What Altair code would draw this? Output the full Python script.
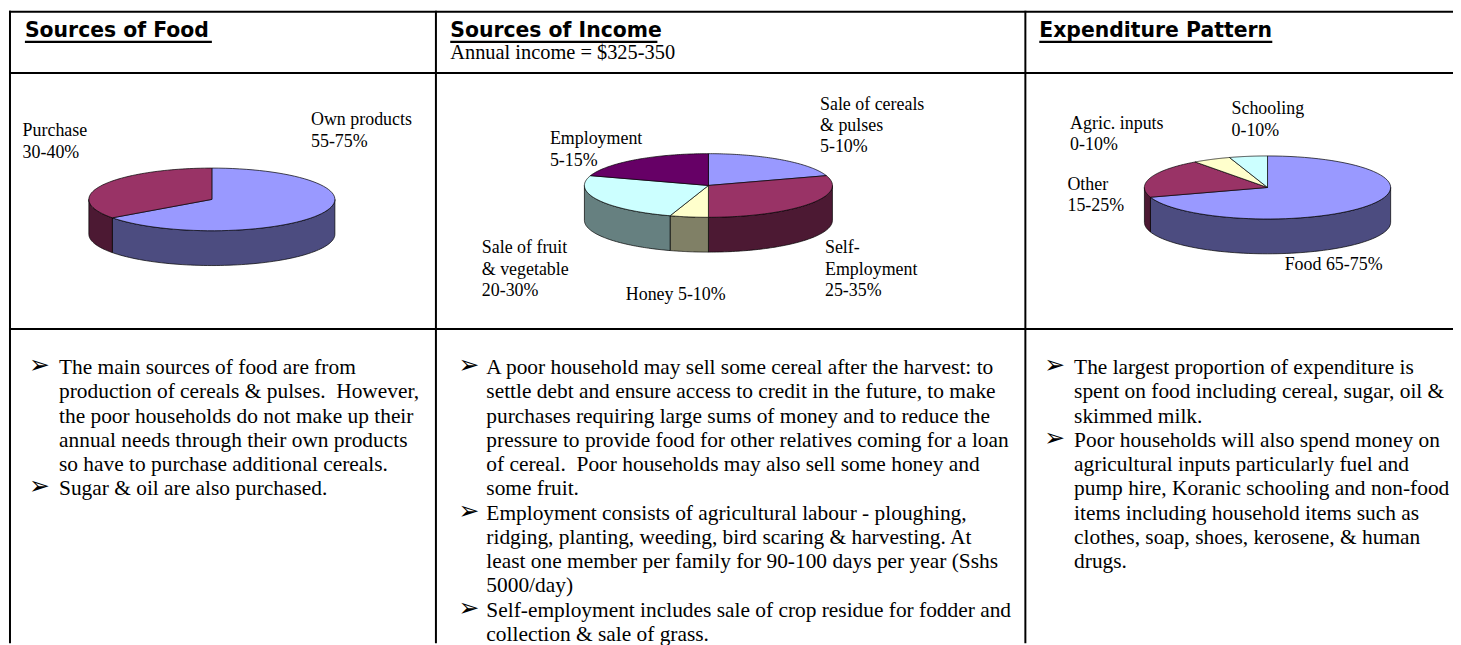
import altair as alt
import pandas as pd

# ---------------- data ----------------
food_labels = ["Own products", "Purchase"]
food_values = [65, 35]

income_labels = ["Sale of cereals & pulses", "Self-Employment", "Honey",
                 "Sale of fruit & vegetable", "Employment"]
income_values = [20, 30, 5, 25, 20]

exp_labels = ["Food", "Other", "Agric. inputs", "Schooling"]
exp_values = [70, 20, 5, 5]

headers = ["Sources of Food", "Sources of Income", "Expenditure Pattern"]
subheader = "Annual income = $325-350"

food_label_text = [["Purchase", "30-40%"], ["Own products", "55-75%"]]
income_label_text = [["Sale of cereals", "& pulses", "\u00a05-10%"], ["Employment", "5-15%"],
                     ["Sale of fruit", "& vegetable", "20-30%"], ["Honey 5-10%"],
                     ["Self-", "Employment", "25-35%"]]
exp_label_text = [["Schooling", "0-10%"], ["Agric. inputs", "0-10%"],
                  ["Other", "15-25%"], ["Food 65-75%"]]

food_notes = [
    ["The main sources of food are from",
     "production of cereals & pulses.  However,",
     "the poor households do not make up their",
     "annual needs through their own products",
     "so have to purchase additional cereals."],
    ["Sugar & oil are also purchased."],
]
income_notes = [
    ["A poor household may sell some cereal after the harvest: to",
     "settle debt and ensure access to credit in the future, to make",
     "purchases requiring large sums of money and to reduce the",
     "pressure to provide food for other relatives coming for a loan",
     "of cereal.  Poor households may also sell some honey and",
     "some fruit."],
    ["Employment consists of agricultural labour - ploughing,",
     "ridging, planting, weeding, bird scaring & harvesting. At",
     "least one member per family for 90-100 days per year (Sshs",
     "5000/day)"],
    ["Self-employment includes sale of crop residue for fodder and",
     "collection & sale of grass."],
]
exp_notes = [
    ["The largest proportion of expenditure is",
     "spent on food including cereal, sugar, oil &",
     "skimmed milk."],
    ["Poor households will also spend money on",
     "agricultural inputs particularly fuel and",
     "pump hire, Koranic schooling and non-food",
     "items including household items such as",
     "clothes, soap, shoes, kerosene, & human",
     "drugs."],
]

# ---------------- styles ----------------
PERI, MAROON, CREAM, CYAN, PURPLE = "#9999FF", "#993366", "#FFFFCC", "#CCFFFF", "#660066"
SIDE = {PERI: "#4C4C80", MAROON: "#4C1933", CREAM: "#808066", CYAN: "#668080", PURPLE: "#330033"}
food_colors = [PERI, MAROON]
income_colors = [PERI, MAROON, CREAM, CYAN, PURPLE]
exp_colors = [PERI, MAROON, CREAM, CYAN]

SERIF = "Liberation Serif"
HEADFONT = "DejaVu Sans"

# ---------------- layout (page pixels) ----------------
W, H = 1453, 637
XS = alt.Scale(domain=[8, 8 + W], nice=False, zero=False)
YS = alt.Scale(domain=[8, 8 + H], nice=False, zero=False, reverse=True)

pies = {
    "food": dict(cx=213, cy=198.7, rx=123.7, ry=31.5, depth=35),
    "income": dict(cx=712.3, cy=184.7, rx=124.7, ry=32, depth=35),
    "exp": dict(cx=1274.5, cy=186.7, rx=123.8, ry=31.7, depth=35),
}
label_anchor = {
    "food": [(22.7, 135), (312.7, 124.3)],
    "income": [(824.5, 108.3), (552.9, 143.3), (484.4, 252.7), (629.2, 300), (829.5, 252.7)],
    "exp": [(1238.3, 113.3), (1076, 127.7), (1073.3, 189), (1291.7, 270)],
}
LABEL_LH = 21.6
header_pos = [(25, 35, 213), (452.7, 35, 661), (1045, 35, 1279.3)]
UNDERLINE_Y = 40.3
sub_pos = (452.7, 58)
notes_cols = [(29, 59.3), (461, 489), (1050, 1080)]
NOTE_Y0, NOTE_LH = 374.3, 24.4
NOTE_SIZE = 21.5

grid_h = [10, 71.7, 329]
grid_v = [10, 438.3, 1031]

# ---------------- fill scale ----------------
keys, cols = [], []
for name, labs, colors in [("food", food_labels, food_colors),
                           ("income", income_labels, income_colors),
                           ("exp", exp_labels, exp_colors)]:
    for l, c in zip(labs, colors):
        keys += [f"{name}|{l}", f"{name}|{l}|side"]
        cols += [c, SIDE[c]]
FILL = alt.Scale(domain=keys, range=cols)

N = 72


def pie_layers(name, labels, values):
    p = pies[name]
    cx, cy, rx, ry, d = p["cx"], p["cy"], p["rx"], p["ry"], p["depth"]
    df = pd.DataFrame({"label": labels, "value": values, "order": list(range(len(labels)))})
    df["key"] = name + "|" + df["label"]
    base = alt.Chart(df).transform_joinaggregate(
        total="sum(value)"
    ).transform_window(
        cum="sum(value)", sort=[alt.SortField("order")], frame=[None, 0]
    ).transform_calculate(
        a0="2*PI*(datum.cum - datum.value)/datum.total"
    ).transform_calculate(
        a1="2*PI*datum.cum/datum.total"
    )
    side = base.transform_calculate(
        s0="max(datum.a0, PI/2)"
    ).transform_calculate(
        s1="min(datum.a1, 3*PI/2)"
    ).transform_filter("datum.s1 > datum.s0").transform_calculate(
        k=f"sequence(0, {2 * N + 2})"
    ).transform_flatten(["k"]).transform_calculate(
        ang=f"datum.k <= {N} ? datum.s0 + (datum.s1 - datum.s0) * datum.k / {N} : "
            f"datum.s1 - (datum.s1 - datum.s0) * (datum.k - {N + 1}) / {N}"
    ).transform_calculate(
        px=f"{cx} + {rx} * sin(datum.ang)"
    ).transform_calculate(
        py=f"{cy} - {ry} * cos(datum.ang) + (datum.k <= {N} ? 0 : {d})"
    ).transform_calculate(
        skey="datum.key + '|side'"
    ).mark_line(interpolate="linear-closed", stroke="black", strokeWidth=0.7).encode(
        x=alt.X("px:Q", scale=XS, axis=None),
        y=alt.Y("py:Q", scale=YS, axis=None),
        fill=alt.Fill("skey:N", scale=FILL, legend=None),
        detail="skey:N",
        order=alt.Order("k:Q"),
    )
    top = base.transform_calculate(
        k=f"sequence(0, {N + 2})"
    ).transform_flatten(["k"]).transform_calculate(
        ang=f"datum.a0 + (datum.a1 - datum.a0) * (datum.k - 1) / {N}"
    ).transform_calculate(
        px=f"datum.k == 0 ? {cx} : {cx} + {rx} * sin(datum.ang)"
    ).transform_calculate(
        py=f"datum.k == 0 ? {cy} : {cy} - {ry} * cos(datum.ang)"
    ).mark_line(interpolate="linear-closed", stroke="black", strokeWidth=0.7).encode(
        x=alt.X("px:Q", scale=XS, axis=None),
        y=alt.Y("py:Q", scale=YS, axis=None),
        fill=alt.Fill("key:N", scale=FILL, legend=None),
        detail="key:N",
        order=alt.Order("k:Q"),
    )
    return [side, top]


def text_layer(df, size, font=SERIF, weight="normal"):
    return alt.Chart(df).mark_text(
        align="left", baseline="alphabetic", font=font, fontSize=size,
        fontWeight=weight, color="black"
    ).encode(
        x=alt.X("x:Q", scale=XS, axis=None),
        y=alt.Y("y:Q", scale=YS, axis=None),
        text="t:N",
    )


layers = []

# grid lines
grid = [dict(x=9, x2=8 + W, y=y, y2=y) for y in grid_h] + \
       [dict(x=x, x2=x, y=9, y2=8 + H) for x in grid_v]
layers.append(alt.Chart(pd.DataFrame(grid)).mark_rule(color="black", strokeWidth=2).encode(
    x=alt.X("x:Q", scale=XS, axis=None), x2="x2:Q",
    y=alt.Y("y:Q", scale=YS, axis=None), y2="y2:Q"))

# headers + underline
hdf = pd.DataFrame([dict(t=h, x=p[0], y=p[1]) for h, p in zip(headers, header_pos)])
layers.append(text_layer(hdf, 20.5, HEADFONT, "bold"))
udf = pd.DataFrame([dict(x=p[0], x2=p[2], y=UNDERLINE_Y, y2=UNDERLINE_Y) for p in header_pos])
layers.append(alt.Chart(udf).mark_rule(color="black", strokeWidth=2.5).encode(
    x=alt.X("x:Q", scale=XS, axis=None), x2="x2:Q",
    y=alt.Y("y:Q", scale=YS, axis=None), y2="y2:Q"))
layers.append(text_layer(pd.DataFrame([dict(t=subheader, x=sub_pos[0], y=sub_pos[1])]), 20.5))

# pies
layers += pie_layers("food", food_labels, food_values)
layers += pie_layers("income", income_labels, income_values)
layers += pie_layers("exp", exp_labels, exp_values)

# pie labels
rows = []
for name, texts in [("food", food_label_text), ("income", income_label_text), ("exp", exp_label_text)]:
    for (ax, ay), lines in zip(label_anchor[name], texts):
        for i, line in enumerate(lines):
            rows.append(dict(t=line, x=ax, y=ay + i * LABEL_LH))
layers.append(text_layer(pd.DataFrame(rows), 18))

# notes
rows, bullets = [], []
for (bx, tx), notes in zip(notes_cols, [food_notes, income_notes, exp_notes]):
    idx = 0
    for item in notes:
        bullets.append(dict(t="\u27a2", x=bx, y=NOTE_Y0 + idx * NOTE_LH - 1))
        for line in item:
            rows.append(dict(t=line.replace("  ", "\u00a0 "), x=tx, y=NOTE_Y0 + idx * NOTE_LH))
            idx += 1
layers.append(text_layer(pd.DataFrame(rows), NOTE_SIZE))
layers.append(text_layer(pd.DataFrame(bullets), 25, "DejaVu Sans"))

chart = alt.layer(*layers).properties(
    width=W, height=H, padding=0,
    autosize=alt.AutoSizeParams(type="none"),
    background="white",
).configure_view(stroke=None)

chart.save("out.html", embed_options={"renderer": "svg", "actions": False})
